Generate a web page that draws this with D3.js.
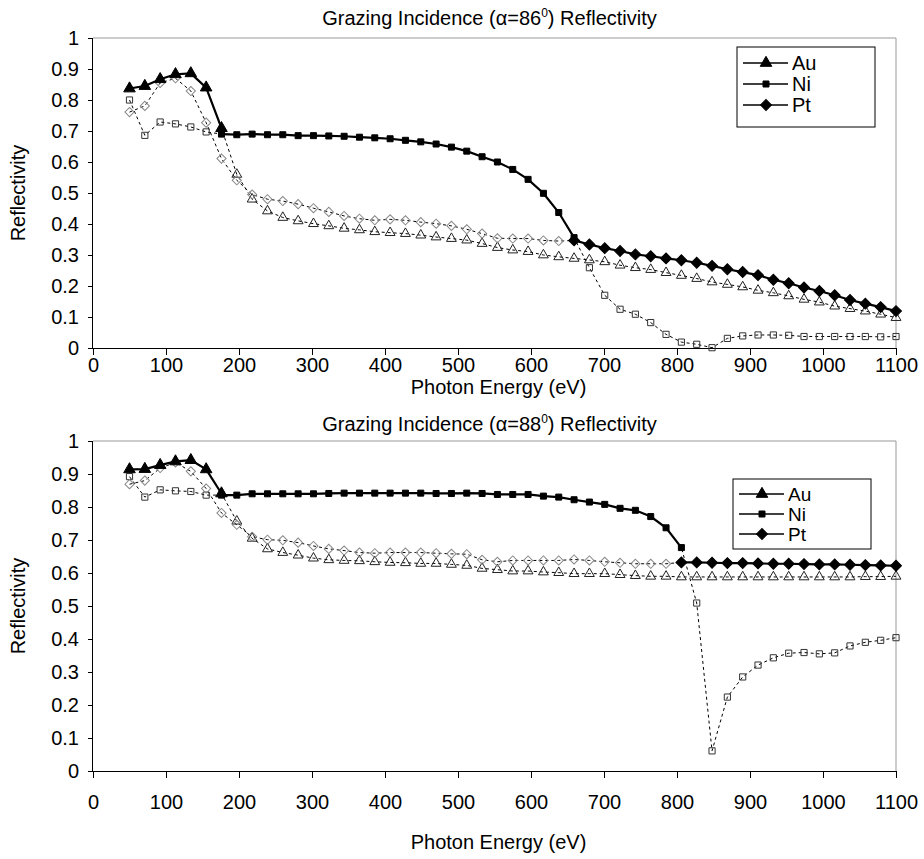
<!DOCTYPE html>
<html><head><meta charset="utf-8">
<script src="https://cdn.jsdelivr.net/npm/d3@7"></script>
<style>
body{margin:0;background:#fff}
svg{display:block}
text{font-family:"Liberation Sans",Arial,sans-serif;fill:#000}
</style>
</head><body>
<svg id="c" width="924" height="859"></svg>
<script>
// ---------- data ----------
const energies = [50,71,92,113,134,155,176,197,218,239,260,281,302,323,344,365,386,407,428,449,470,491,512,533,554,575,596,617,638,659,680,701,722,743,764,785,806,827,848,869,890,911,932,953,974,995,1016,1037,1058,1079,1100];
const xTicks = [0,100,200,300,400,500,600,700,800,900,1000,1100];
const yTicks = [0,0.1,0.2,0.3,0.4,0.5,0.6,0.7,0.8,0.9,1];
const yTickLabels = ["0","0.1","0.2","0.3","0.4","0.5","0.6","0.7","0.8","0.9","1"];
const materials = ["Au","Ni","Pt"];

// alpha = 86 deg
const au86 = [0.837,0.845,0.867,0.883,0.886,0.840,0.709,0.560,0.480,0.442,0.421,0.410,0.401,0.394,0.386,0.381,0.375,0.372,0.369,0.364,0.358,0.353,0.348,0.337,0.324,0.316,0.311,0.300,0.294,0.289,0.284,0.278,0.267,0.259,0.253,0.243,0.234,0.224,0.213,0.205,0.197,0.186,0.178,0.168,0.157,0.148,0.135,0.127,0.119,0.109,0.098];
const ni86 = [0.800,0.686,0.729,0.723,0.713,0.697,0.690,0.688,0.690,0.688,0.688,0.685,0.685,0.684,0.683,0.680,0.678,0.675,0.670,0.665,0.658,0.648,0.635,0.617,0.600,0.576,0.544,0.499,0.437,0.356,0.259,0.170,0.125,0.109,0.082,0.044,0.019,0.012,0.001,0.031,0.039,0.042,0.042,0.041,0.037,0.037,0.037,0.037,0.037,0.036,0.037];
const pt86 = [0.761,0.781,0.855,0.870,0.829,0.727,0.611,0.541,0.495,0.480,0.474,0.464,0.451,0.439,0.426,0.417,0.412,0.415,0.412,0.406,0.401,0.394,0.383,0.369,0.354,0.353,0.353,0.347,0.345,0.347,0.334,0.322,0.313,0.302,0.296,0.289,0.283,0.275,0.265,0.254,0.245,0.235,0.220,0.209,0.195,0.184,0.170,0.155,0.143,0.132,0.119];
// index ranges where each material is the best reflector (solid)
const best86 = [[0,6],[6,29],[29,50]];

// alpha = 88 deg
const au88 = [0.914,0.915,0.927,0.938,0.942,0.914,0.841,0.757,0.705,0.673,0.662,0.654,0.645,0.640,0.638,0.637,0.634,0.632,0.631,0.629,0.629,0.626,0.623,0.614,0.610,0.606,0.606,0.603,0.601,0.598,0.598,0.598,0.595,0.592,0.590,0.590,0.588,0.588,0.588,0.588,0.588,0.588,0.588,0.588,0.588,0.588,0.588,0.588,0.589,0.589,0.590];
const ni88 = [0.892,0.830,0.852,0.849,0.847,0.836,0.836,0.836,0.840,0.840,0.840,0.840,0.840,0.841,0.842,0.842,0.842,0.842,0.842,0.842,0.841,0.841,0.842,0.841,0.838,0.838,0.838,0.833,0.830,0.822,0.815,0.808,0.796,0.790,0.771,0.737,0.677,0.509,0.061,0.224,0.285,0.321,0.343,0.357,0.359,0.355,0.358,0.379,0.390,0.396,0.404];
const pt88 = [0.869,0.880,0.918,0.935,0.908,0.856,0.782,0.746,0.710,0.701,0.699,0.692,0.682,0.673,0.668,0.662,0.660,0.662,0.662,0.662,0.660,0.658,0.657,0.640,0.634,0.638,0.638,0.638,0.638,0.641,0.638,0.634,0.631,0.628,0.628,0.628,0.632,0.632,0.631,0.630,0.630,0.629,0.628,0.628,0.627,0.626,0.626,0.625,0.624,0.623,0.622];
const best88 = [[0,6],[6,36],[36,50]];

const titles = [
  {pre:"Grazing Incidence (\u03b1=86", sup:"0", post:") Reflectivity"},
  {pre:"Grazing Incidence (\u03b1=88", sup:"0", post:") Reflectivity"}
];
const xTitle = "Photon Energy (eV)";
const yTitle = "Reflectivity";

// ---------- drawing ----------
const svg = d3.select("#c");
const FS = 20;
const x = d3.scaleLinear().domain([0,1100]).range([93,896]);

const symOpen = {
  Au: d3.symbol().type(d3.symbolTriangle).size(42),
  Ni: d3.symbol().type(d3.symbolSquare).size(38),
  Pt: d3.symbol().type(d3.symbolSquare).size(42)
};
const symFilled = {
  Au: d3.symbol().type(d3.symbolTriangle).size(58),
  Ni: d3.symbol().type(d3.symbolSquare).size(36),
  Pt: d3.symbol().type(d3.symbolSquare).size(60)
};
const openStroke = {Au:"#222", Ni:"#333", Pt:"#888"};

function marker(sel, m, filled, px, py){
  const path = (filled ? symFilled : symOpen)[m]();
  const rot = m === "Pt" ? " rotate(45)" : "";
  sel.append("path").attr("d", path)
    .attr("transform", `translate(${px},${py})${rot}`)
    .attr("fill", filled ? "#000" : "none")
    .attr("stroke", filled ? "#000" : openStroke[m])
    .attr("stroke-width", 1);
}

function drawChart(cfg){
  const g = svg.append("g");
  const y = d3.scaleLinear().domain([0,1]).range([cfg.y0, cfg.y1]);
  const [x0,x1] = x.range();

  // frame (top/right grey)
  g.append("line").attr("x1",x0).attr("x2",x1).attr("y1",cfg.y1).attr("y2",cfg.y1).attr("stroke","#999");
  g.append("line").attr("x1",x1).attr("x2",x1).attr("y1",cfg.y1).attr("y2",cfg.y0).attr("stroke","#999");

  // y axis
  const ya = g.append("g").attr("transform",`translate(${x0},0)`)
    .call(d3.axisLeft(y).tickValues(yTicks).tickSize(5).tickPadding(9)
      .tickFormat((d,i)=>yTickLabels[i]));
  ya.select(".domain").attr("stroke","#000").attr("d",`M-0.5,${cfg.y1}V${cfg.y0}`);
  ya.selectAll("text").attr("font-size",FS).attr("font-family","Liberation Sans, Arial, sans-serif").attr("fill","#000");

  // x axis
  const xa = g.append("g").attr("transform",`translate(0,${cfg.y0})`)
    .call(d3.axisBottom(x).tickValues(xTicks).tickSize(7).tickPadding(cfg.xPad).tickFormat(d3.format("d")));
  xa.select(".domain").attr("stroke","#000").attr("d",`M${x0},0.5H${x1}`);
  xa.selectAll("text").attr("font-size",FS).attr("font-family","Liberation Sans, Arial, sans-serif").attr("fill","#000");

  // titles
  const t = g.append("text").attr("x",(x0+x1)/2 - 5).attr("y",cfg.titleY).attr("text-anchor","middle").attr("font-size",FS);
  t.append("tspan").text(cfg.title.pre);
  t.append("tspan").text(cfg.title.sup).attr("font-size",12).attr("dy",-8);
  t.append("tspan").text(cfg.title.post).attr("dy",8);
  g.append("text").attr("x",(x0+x1)/2 + 4).attr("y",cfg.xTitleY).attr("text-anchor","middle").attr("font-size",FS).text(xTitle);
  g.append("text").attr("transform",`translate(25,${(cfg.y0+cfg.y1)/2}) rotate(-90)`).attr("text-anchor","middle").attr("font-size",FS).text(yTitle);

  const line = d3.line().x(d=>x(d[0])).y(d=>y(d[1]));
  const pts = arr => energies.map((e,i)=>[e,arr[i]]);

  // full dashed series
  cfg.series.forEach((arr)=>{
    g.append("path").attr("d",line(pts(arr))).attr("fill","none").attr("stroke","#000")
      .attr("stroke-width",1).attr("stroke-dasharray","3,3");
  });
  cfg.series.forEach((arr,k)=>{
    const m = materials[k];
    const [a,b] = cfg.best[k];
    pts(arr).forEach((p,i)=>{
      if (i>=a && i<=b) return;
      marker(g,m,false,x(p[0]),y(p[1]));
    });
  });
  // solid best segments
  cfg.series.forEach((arr,k)=>{
    const [a,b] = cfg.best[k];
    g.append("path").attr("d",line(pts(arr).slice(a,b+1))).attr("fill","none").attr("stroke","#000").attr("stroke-width",2.2);
  });
  cfg.series.forEach((arr,k)=>{
    const m = materials[k];
    const [a,b] = cfg.best[k];
    pts(arr).slice(a,b+1).forEach(p=>marker(g,m,true,x(p[0]),y(p[1])));
  });

  // legend
  const L = cfg.legend;
  g.append("rect").attr("x",L.x).attr("y",L.y).attr("width",L.w).attr("height",L.h)
    .attr("fill","#fff").attr("stroke","#000").attr("stroke-width",1);
  materials.forEach((m,i)=>{
    const ly = L.y + L.first + i*L.step;
    g.append("line").attr("x1",L.x+6).attr("x2",L.x+51).attr("y1",ly).attr("y2",ly).attr("stroke","#000").attr("stroke-width",1.5);
    marker(g,m,true,L.x+29,ly);
    g.append("text").attr("x",L.x+55).attr("y",ly+7).attr("font-size",L.fs).text(m);
  });
}

drawChart({y0:348, y1:38, titleY:25, xTitleY:394, xPad:3, title:titles[0],
  series:[au86,ni86,pt86], best:best86, legend:{x:737,y:47,w:138,h:80,first:16,step:21,fs:20}});
drawChart({y0:771, y1:441, titleY:431, xTitleY:849, xPad:17, title:titles[1],
  series:[au88,ni88,pt88], best:best88, legend:{x:733,y:479,w:138,h:70,first:15,step:20,fs:19}});
</script>
</body></html>
